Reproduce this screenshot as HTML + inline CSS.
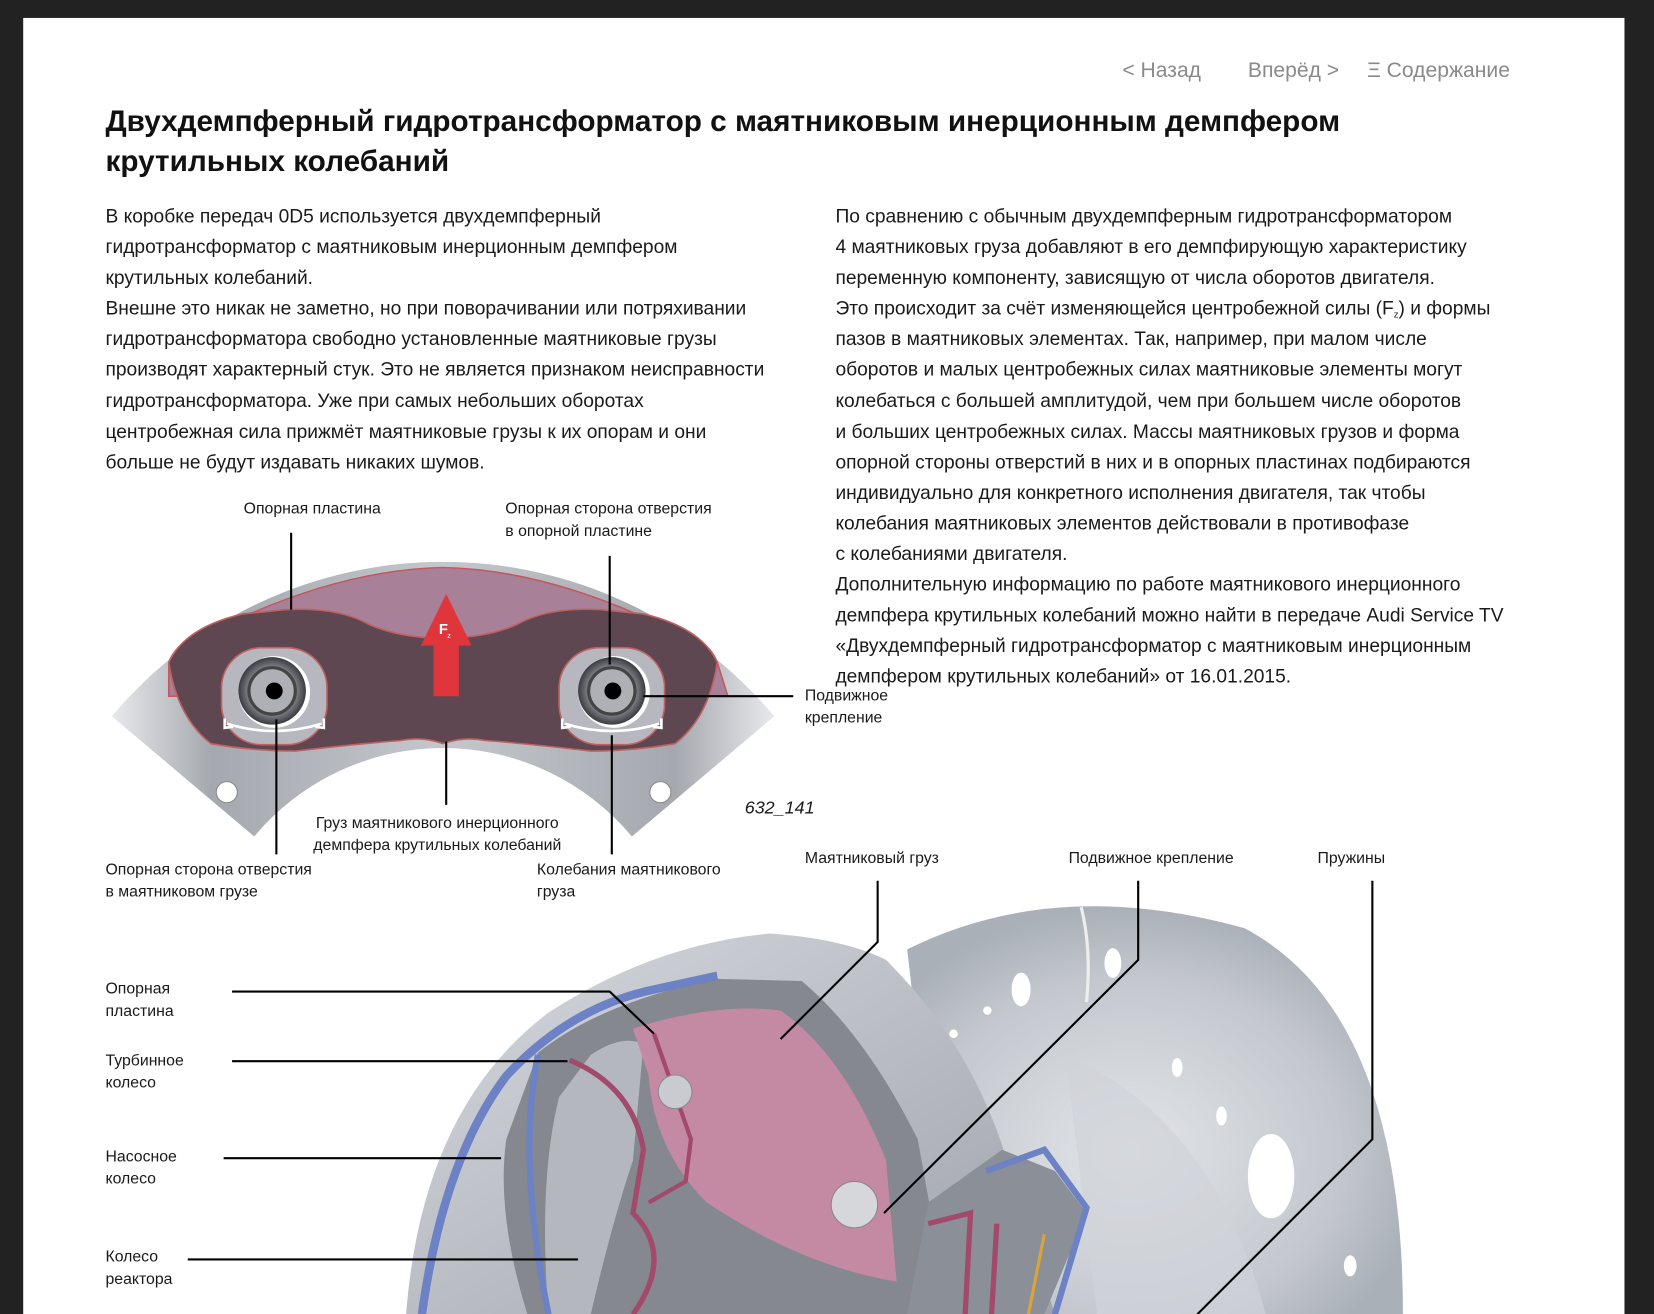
<!DOCTYPE html>
<html><head><meta charset="utf-8">
<style>
html,body{margin:0;padding:0;background:#222;}
body{width:1654px;height:1314px;overflow:hidden;}
#wrap{position:absolute;left:0;top:0;width:1568px;height:1246px;transform:scale(1.05485);transform-origin:0 0;background:#222;font-family:"Liberation Sans",sans-serif;}
#page{position:absolute;left:22px;top:17px;width:1518px;height:1229px;background:#fff;}
.t{position:absolute;white-space:nowrap;color:#111;}
.nav{font-size:20px;color:#8a8a8a;top:56px;}
h1{position:absolute;left:100px;top:95px;margin:0;font-size:28.2px;line-height:38px;font-weight:bold;color:#111;white-space:nowrap;}
.p{position:absolute;font-size:18.2px;line-height:29.1px;color:#1a1a1a;white-space:nowrap;}
.p sub{font-size:9px;line-height:0;vertical-align:-3px;}
.l{position:absolute;font-size:15px;line-height:20.5px;color:#1a1a1a;white-space:nowrap;}
svg{position:absolute;left:0;top:0;}
</style></head><body>
<div id="wrap">
<div id="page"></div>
<svg width="1568" height="1246" viewBox="0 0 1568 1246">
<defs>
<linearGradient id="ring" x1="0" y1="0" x2="1" y2="0">
<stop offset="0" stop-color="#e8e9ec"/><stop offset="0.15" stop-color="#a5a8ae"/><stop offset="0.5" stop-color="#c4c7cc"/><stop offset="0.85" stop-color="#a5a8ae"/><stop offset="1" stop-color="#e8e9ec"/></linearGradient>
<radialGradient id="rol"><stop offset="0" stop-color="#e8e8ea"/><stop offset="0.6" stop-color="#9a9ca3"/><stop offset="1" stop-color="#3a3a40"/></radialGradient>
<radialGradient id="disk" cx="0.45" cy="0.6" r="0.6"><stop offset="0" stop-color="#e2e4e8"/><stop offset="0.7" stop-color="#c4c8ce"/><stop offset="1" stop-color="#aab0b8"/></radialGradient>
<linearGradient id="hous" x1="0" y1="0" x2="1" y2="1"><stop offset="0" stop-color="#d6d9de"/><stop offset="1" stop-color="#9ea2aa"/></linearGradient>
</defs>
<path d="M106,679 A410,410 0 0 1 734,679 L599,793 A233,233 0 0 0 241,793 Z" fill="url(#ring)"/>
<path d="M160,628 Q170,600 230,585 Q330,540 420,538 Q510,540 610,585 Q670,600 680,628 L690,660 L160,660 Z" fill="#a88097" stroke="#c05a60" stroke-width="1.5"/>
<path d="M160,628 Q175,595 230,582 L270,578 Q320,575 350,592 Q380,605 420,605 Q460,605 490,592 Q520,575 570,578 L610,582 Q665,595 680,628 Q672,680 640,705 Q600,712 560,712 Q500,705 460,702 Q440,698 420,705 Q400,698 380,702 Q340,705 280,712 Q240,712 200,705 Q168,680 160,628 Z" fill="#5f4752" stroke="#c06060" stroke-width="1.5"/>
<rect x="210" y="614" width="100" height="92" rx="38" fill="#b7b8bf" stroke="#c06060" stroke-width="1.5"/>
<rect x="530" y="614" width="100" height="92" rx="38" fill="#b7b8bf" stroke="#c06060" stroke-width="1.5"/>
<circle cx="260" cy="656" r="34" fill="#fff"/><circle cx="258" cy="655" r="32" fill="url(#rol)"/><circle cx="258" cy="655" r="22" fill="#aeb0b6" stroke="#444" stroke-width="3"/><circle cx="260" cy="655" r="8" fill="#000"/>
<circle cx="582" cy="656" r="34" fill="#fff"/><circle cx="580" cy="655" r="32" fill="url(#rol)"/><circle cx="580" cy="655" r="22" fill="#aeb0b6" stroke="#444" stroke-width="3"/><circle cx="581" cy="655" r="8" fill="#000"/>
<path d="M215,686 Q260,700 305,686" fill="none" stroke="#fff" stroke-width="2.5"/>
<path d="M213,681 l0,9 l8,-1 M307,681 l0,9 l-8,-1" fill="none" stroke="#fff" stroke-width="2.5"/>
<path d="M535,686 Q580,700 625,686" fill="none" stroke="#fff" stroke-width="2.5"/>
<path d="M533,681 l0,9 l8,-1 M627,681 l0,9 l-8,-1" fill="none" stroke="#fff" stroke-width="2.5"/>
<path d="M411,660 L411,612 L399,612 L423,563 L447,612 L435,612 L435,660 Z" fill="#e0353a"/>
<text x="416" y="601" font-family="Liberation Sans" font-size="14" font-weight="bold" fill="#fff">F</text><text x="424" y="605" font-family="Liberation Sans" font-size="7" fill="#fff">z</text>
<circle cx="215" cy="751" r="10" fill="#fff" stroke="#888" stroke-width="1"/>
<circle cx="626" cy="751" r="10" fill="#fff" stroke="#888" stroke-width="1"/>
<g stroke="#000" stroke-width="2" fill="none">
<line x1="276" y1="505" x2="276" y2="578"/>
<line x1="578" y1="527" x2="578" y2="630"/>
<line x1="610" y1="660" x2="752" y2="660"/>
<line x1="423" y1="703" x2="423" y2="763"/>
<line x1="262" y1="682" x2="262" y2="810"/>
<line x1="580" y1="697" x2="580" y2="810"/>
</g>
<path d="M860,900 Q1000,830 1180,880 Q1330,960 1330,1246 L900,1246 Z" fill="url(#disk)"/>
<path d="M1025,860 Q1035,900 1030,950" stroke="#eee" stroke-width="3" fill="none"/>
<g fill="#fff"><ellipse cx="1055" cy="913" rx="8" ry="14"/><ellipse cx="968" cy="938" rx="9" ry="16"/><circle cx="936" cy="958" r="4"/><circle cx="904" cy="980" r="4"/><ellipse cx="1116" cy="1012" rx="5" ry="9"/><ellipse cx="1158" cy="1058" rx="5" ry="9"/><ellipse cx="1205" cy="1115" rx="22" ry="40"/><ellipse cx="1280" cy="1200" rx="6" ry="10"/></g>
<path d="M1010,1000 Q1150,1060 1200,1246 L1040,1246 Z" fill="#d0d3d8" opacity="0.7"/>
<path d="M385,1246 Q400,1050 520,960 Q620,895 730,885 Q800,890 840,910 Q930,1000 960,1120 L1000,1246 Z" fill="url(#hous)"/>
<path d="M510,998 Q570,950 680,928 L760,930 Q820,980 870,1080 L900,1246 L500,1246 Q470,1150 480,1080 Z" fill="#85888f"/>
<path d="M560,1000 Q590,980 610,990 L600,1100 Q580,1160 560,1246 L520,1246 Q510,1120 530,1040 Z" fill="#b4b7bd"/>
<path d="M400,1246 Q420,1100 480,1020 Q540,955 620,938 L680,925" fill="none" stroke="#6c82c4" stroke-width="8"/>
<path d="M510,1000 Q490,1100 520,1246" fill="none" stroke="#6c82c4" stroke-width="6"/>
<path d="M600,975 Q680,950 740,958 Q800,1000 840,1100 L850,1215 Q760,1200 670,1140 Q620,1090 615,1020 Z" fill="#c48aa3"/>
<path d="M540,1005 Q600,1030 610,1090 L600,1150 Q640,1190 600,1246" fill="none" stroke="#a34a6c" stroke-width="5"/>
<path d="M620,980 L655,1080 L650,1120 L615,1140" fill="none" stroke="#a34a6c" stroke-width="4"/>
<circle cx="640" cy="1035" r="16" fill="#c9cbd0" stroke="#888"/>
<circle cx="810" cy="1142" r="22" fill="#d5d7db" stroke="#888"/>
<path d="M880,1140 L950,1090 L1000,1110 L1030,1150 L990,1246 L860,1246 Z" fill="#8b8f97"/>
<path d="M935,1110 L990,1090 L1030,1145 L1000,1246" fill="none" stroke="#6c82c4" stroke-width="6"/>
<path d="M880,1160 L920,1150 L915,1246 M945,1160 L940,1246" fill="none" stroke="#a34a6c" stroke-width="5"/>
<path d="M990,1170 L975,1246" fill="none" stroke="#d9a43a" stroke-width="3"/>
<g stroke="#000" stroke-width="2" fill="none">
<polyline points="220,940 578,940 620,980"/>
<line x1="220" y1="1006" x2="538" y2="1006"/>
<line x1="212" y1="1098" x2="475" y2="1098"/>
<line x1="178" y1="1194" x2="548" y2="1194"/>
<polyline points="832,835 832,893 740,985"/>
<polyline points="1079,835 1079,910 838,1150"/>
<polyline points="1301,835 1301,1080 1135,1246"/>
</g>
</svg>
<div class="t nav" style="left:1064px;">&lt; Назад</div>
<div class="t nav" style="left:1183px;">Вперёд &gt;</div>
<div class="t nav" style="left:1296px;">Ξ Содержание</div>
<h1>Двухдемпферный гидротрансформатор с маятниковым инерционным демпфером<br>крутильных колебаний</h1>
<div class="p" style="left:100px;top:191px;">В коробке передач 0D5 используется двухдемпферный<br>гидротрансформатор с маятниковым инерционным демпфером<br>крутильных колебаний.<br>Внешне это никак не заметно, но при поворачивании или потряхивании<br>гидротрансформатора свободно установленные маятниковые грузы<br>производят характерный стук. Это не является признаком неисправности<br>гидротрансформатора. Уже при самых небольших оборотах<br>центробежная сила прижмёт маятниковые грузы к их опорам и они<br>больше не будут издавать никаких шумов.</div>
<div class="p" style="left:792px;top:191px;">По сравнению с обычным двухдемпферным гидротрансформатором<br>4 маятниковых груза добавляют в его демпфирующую характеристику<br>переменную компоненту, зависящую от числа оборотов двигателя.<br>Это происходит за счёт изменяющейся центробежной силы (F<sub>z</sub>) и формы<br>пазов в маятниковых элементах. Так, например, при малом числе<br>оборотов и малых центробежных силах маятниковые элементы могут<br>колебаться с большей амплитудой, чем при большем числе оборотов<br>и больших центробежных силах. Массы маятниковых грузов и форма<br>опорной стороны отверстий в них и в опорных пластинах подбираются<br>индивидуально для конкретного исполнения двигателя, так чтобы<br>колебания маятниковых элементов действовали в противофазе<br>с колебаниями двигателя.<br>Дополнительную информацию по работе маятникового инерционного<br>демпфера крутильных колебаний можно найти в передаче Audi Service TV<br>«Двухдемпферный гидротрансформатор с маятниковым инерционным<br>демпфером крутильных колебаний» от 16.01.2015.</div>
<div class="l" style="left:231px;top:473px;">Опорная пластина</div>
<div class="l" style="left:479px;top:473px;">Опорная сторона отверстия<br>в опорной пластине</div>
<div class="l" style="left:763px;top:650px;">Подвижное<br>крепление</div>
<div class="l" style="left:706px;top:756px;font-size:17px;font-style:italic;">632_141</div>
<div class="l" style="left:297px;top:771px;text-align:center;">Груз маятникового инерционного<br>демпфера крутильных колебаний</div>
<div class="l" style="left:100px;top:815px;">Опорная сторона отверстия<br>в маятниковом грузе</div>
<div class="l" style="left:509px;top:815px;">Колебания маятникового<br>груза</div>
<div class="l" style="left:763px;top:804px;">Маятниковый груз</div>
<div class="l" style="left:1013px;top:804px;">Подвижное крепление</div>
<div class="l" style="left:1249px;top:804px;">Пружины</div>
<div class="l" style="left:100px;top:928px;">Опорная<br>пластина</div>
<div class="l" style="left:100px;top:996px;">Турбинное<br>колесо</div>
<div class="l" style="left:100px;top:1087px;">Насосное<br>колесо</div>
<div class="l" style="left:100px;top:1182px;">Колесо<br>реактора</div>
</div>
</body></html>
